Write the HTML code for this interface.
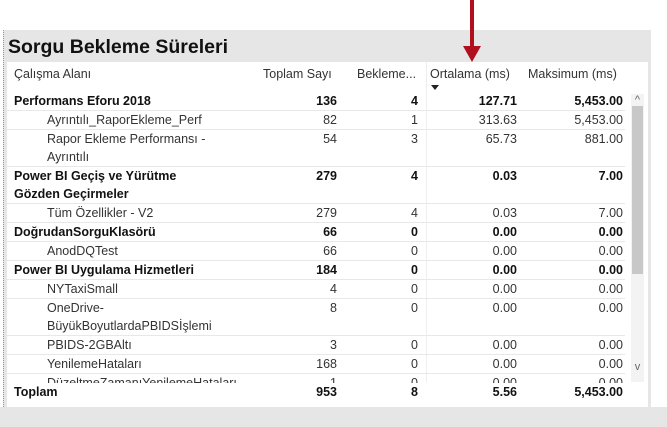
<!DOCTYPE html>
<html><head><meta charset="utf-8"><style>
body{margin:0;width:667px;height:427px;background:#fff;position:relative;overflow:hidden;font-family:"Segoe UI","Liberation Sans","DejaVu Sans",sans-serif;}
#panel{position:absolute;left:3px;top:30px;width:647px;height:397px;background:#e6e6e6;border-left:1px dotted #999;}
#bottom{position:absolute;left:0;top:407px;width:667px;height:20px;background:#e6e6e6;}
#title{position:absolute;left:8px;top:36px;font-size:19.5px;font-weight:bold;color:#111;}
#card{position:absolute;left:7px;top:62px;width:641px;height:345px;background:#fff;}
.h{position:absolute;top:67px;font-size:12.5px;color:#333;white-space:nowrap;}
#body{position:absolute;left:7px;top:92px;width:618px;height:291px;overflow:hidden;}
.row{position:relative;border-bottom:1px solid #e8e8e8;font-size:12.5px;line-height:18px;color:#333;}
.row.b{font-weight:bold;color:#111;}
.c{position:absolute;top:0;text-align:right;}
.n{padding-left:7px;width:310px;}
.row.s .n{padding-left:40px;width:230px;}
.vl{position:absolute;left:426px;top:62px;width:1px;height:320px;background:#eee;}
#tot{position:absolute;left:7px;top:383px;width:618px;font-size:12.5px;line-height:18px;font-weight:bold;color:#111;}
</style></head><body>
<div id="panel"></div>
<div id="bottom"></div>
<div id="title">Sorgu Bekleme Süreleri</div>
<div id="card"></div>
<div class="vl"></div>
<div class="h" style="left:14px">Çalışma Alanı</div>
<div class="h" style="left:263px">Toplam Sayı</div>
<div class="h" style="left:357px">Bekleme...</div>
<div class="h" style="left:430px">Ortalama (ms)</div>
<div class="h" style="left:528px">Maksimum (ms)</div>
<div style="position:absolute;left:431px;top:85px;width:0;height:0;border-left:4px solid transparent;border-right:4px solid transparent;border-top:5px solid #222"></div>
<svg style="position:absolute;left:460px;top:0" width="24" height="64"><rect x="10" y="0" width="4" height="48" fill="#b0101e"/><polygon points="3,46 21,46 12,62" fill="#b0101e"/></svg>
<div id="body"></div>
<div style="position:absolute;left:631px;top:94px;width:13px;height:288px;background:#f3f3f3">
<div style="position:absolute;left:0;top:0;width:13px;font-size:11px;color:#666;text-align:center">^</div>
<div style="position:absolute;left:1px;top:12px;width:11px;height:168px;background:#c8c8c8"></div>
<div style="position:absolute;left:0;top:267px;width:13px;font-size:11px;color:#666;text-align:center">v</div>
</div>
<div id="tot">
<span class="c" style="left:7px;text-align:left">Toplam</span><span class="c" style="right:288px">953</span><span class="c" style="right:207px">8</span><span class="c" style="right:108px">5.56</span><span class="c" style="right:2px">5,453.00</span></div>
<script>
const names=["Performans Eforu 2018","Ayrıntılı_RaporEkleme_Perf","Rapor Ekleme Performansı -<br>Ayrıntılı","Power BI Geçiş ve Yürütme<br>Gözden Geçirmeler","Tüm Özellikler - V2","DoğrudanSorguKlasörü","AnodDQTest","Power BI Uygulama Hizmetleri","NYTaxiSmall","OneDrive-<br>BüyükBoyutlardaPBIDSİşlemi","PBIDS-2GBAltı","YenilemeHataları","DüzeltmeZamanıYenilemeHataları"];
const bold=[1,0,0,1,0,1,0,1,0,0,0,0,0];
const counts=["136","82","54","279","279","66","66","184","4","8","3","168","1"];
const waits=["4","1","3","4","4","0","0","0","0","0","0","0","0"];
const avgs=["127.71","313.63","65.73","0.03","0.03","0.00","0.00","0.00","0.00","0.00","0.00","0.00","0.00"];
const maxs=["5,453.00","5,453.00","881.00","7.00","7.00","0.00","0.00","0.00","0.00","0.00","0.00","0.00","0.00"];
const body=document.getElementById('body');
names.forEach((n,i)=>{
const r=document.createElement('div');
r.className='row '+(bold[i]?'b':'s');


r.innerHTML='<div class="n">'+n+'</div><span class="c" style="right:288px">'+counts[i]+'</span><span class="c" style="right:207px">'+waits[i]+'</span><span class="c" style="right:108px">'+avgs[i]+'</span><span class="c" style="right:2px">'+maxs[i]+'</span>';
body.appendChild(r);
});
</script>
</body></html>
